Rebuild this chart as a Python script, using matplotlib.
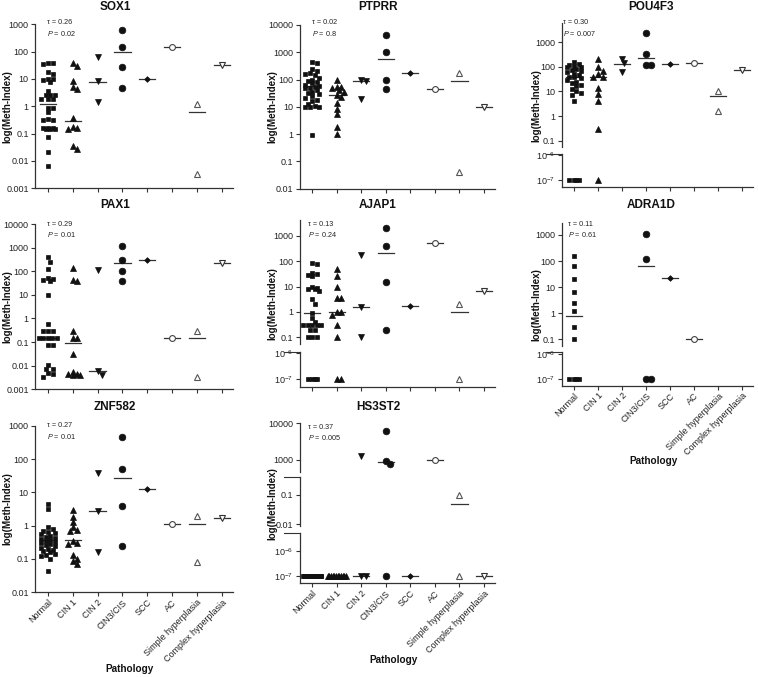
import numpy as np
import matplotlib
matplotlib.use("Agg")
from matplotlib import pyplot as plt

plt.rcParams["font.family"] = ["Liberation Sans", "DejaVu Sans"]
plt.rcParams["mathtext.fontset"] = "custom"
plt.rcParams["mathtext.rm"] = "Liberation Sans"
plt.rcParams["mathtext.it"] = "Liberation Sans:italic"

W, H = 758, 677

categories = ["Normal", "CIN 1", "CIN 2", "CIN3/CIS", "SCC", "AC",
              "Simple hyperplasia", "Complex hyperplasia"]

#Data (one list per pathology group), medians drawn as bars
sox1 = [[40, 38, 36, 18, 15, 10, 10, 9, 7.5, 3.7, 2.6, 2.6, 2.6, 1.9, 1.9, 1.9, 0.9, 0.9, 0.6,
         0.33, 0.32, 0.32, 0.16, 0.16, 0.16, 0.15, 0.15, 0.15, 0.075, 0.022, 0.0065],
        [40, 30, 8.5, 5, 4.2, 0.37, 0.18, 0.16, 0.15, 0.035, 0.028],
        [62, 8.5, 1.45], [620, 150, 28, 4.7], [9.8], [150], [1.2, 0.0033], [32]]
sox1_med = [1.2, 0.28, 8.0, 95, 9.8, 150, 0.6, 32]

ptprr = [[450, 400, 240, 200, 170, 160, 150, 118, 100, 90, 80, 75, 62, 58, 55, 50, 48, 40, 36,
          32, 30, 24, 22, 18, 16, 13, 11, 10, 9.5, 9.5, 0.9],
         [100, 55, 52, 50, 43, 36, 27, 23, 14, 8.5, 5.7, 1.8, 0.97],
         [95, 85, 20], [4300, 1000, 95, 44], [175], [44], [175, 0.042], [10]]
ptprr_med = [58, 28, 86, 570, 175, 44, 92, 10]

pou4f3 = [[150, 130, 120, 110, 100, 95, 85, 75, 65, 60, 50, 45, 40, 38, 35, 30, 25, 22, 18, 16,
           12, 10, 9, 7, 4, 1e-7, 1e-7, 1e-7, 1e-7],
          [200, 95, 70, 50, 40, 38, 14, 7.8, 4, 0.3, 1e-7],
          [205, 140, 60], [2300, 336, 120, 115], [130], [140], [10, 1.6], [75]]
pou4f3_med = [38, 40, 130, 225, 130, 140, 6.3, 75]

pax1 = [[390, 255, 120, 50, 48, 42, 38, 10, 0.6, 0.3, 0.3, 0.3, 0.15, 0.15, 0.15, 0.15, 0.15,
         0.075, 0.075, 0.011, 0.0075, 0.0072, 0.0048, 0.0045, 0.0034],
        [140, 43, 38, 0.3, 0.15, 0.15, 0.032, 0.0056, 0.0046, 0.0044, 0.0042, 0.004],
        [110, 0.0058, 0.0042], [1200, 310, 105, 40], [310], [0.15], [0.3, 0.0033], [230]]
pax1_med = [0.15, 0.095, 0.0058, 215, 310, 0.15, 0.15, 230]

ajap1 = [[87, 75, 35, 30, 28, 27, 10, 9, 8, 8, 7, 3.1, 2.1, 0.95, 0.6, 0.4, 0.3, 0.3, 0.3, 0.3,
          0.3, 0.2, 0.2, 0.1, 0.1, 0.1, 1e-7, 1e-7, 1e-7, 1e-7],
         [48, 27, 9.4, 3.6, 3.4, 1.0, 1.0, 0.78, 0.3, 0.1, 1e-7, 1e-7],
         [180, 1.6, 0.1], [2000, 410, 15, 0.2], [1.75], [520], [2, 1e-7], [6.4]]
ajap1_med = [0.93, 1.0, 1.6, 215, 1.75, 520, 1.0, 6.4]

adra1d = [[160, 65, 20, 6.5, 2.5, 1.2, 0.3, 0.1, 1e-7, 1e-7, 1e-7, 1e-7],
          [], [], [1050, 125, 1e-7, 1e-7], [22], [0.1], [], []]
adra1d_med = [0.75, None, None, 65, 22, 0.1, None, None]

znf582 = [[4.5, 3.1, 0.9, 0.8, 0.7, 0.65, 0.6, 0.55, 0.5, 0.45, 0.42, 0.4, 0.38, 0.35, 0.33, 0.3,
           0.28, 0.27, 0.25, 0.22, 0.2, 0.19, 0.17, 0.16, 0.14, 0.13, 0.12, 0.1, 0.045],
          [2.9, 1.8, 1.26, 0.9, 0.76, 0.67, 0.34, 0.3, 0.29, 0.13, 0.1, 0.085, 0.072],
          [38, 2.8, 0.16], [460, 50, 3.8, 0.25], [12.9], [1.15], [1.9, 0.08], [1.65]]
znf582_med = [0.37, 0.36, 2.7, 27, 12.9, 1.15, 1.1, 1.65]

hs3st2 = [[1e-7, 1e-7, 1e-7, 1e-7, 1e-7, 1e-7, 1e-7, 1e-7, 1e-7, 1e-7, 1e-7, 1e-7, 1e-7, 1e-7,
           1e-7, 1e-7, 1e-7, 1e-7, 1e-7, 1e-7, 1e-7, 1e-7, 1e-7, 1e-7, 1e-7, 1e-7, 1e-7, 1e-7],
          [1e-7, 1e-7, 1e-7, 1e-7, 1e-7, 1e-7, 1e-7, 1e-7, 1e-7, 1e-7, 1e-7, 1e-7],
          [1300, 1e-7, 1e-7], [6300, 940, 800, 1e-7], [1e-7], [1000], [0.1, 1e-7], [1e-7]]
hs3st2_med = [1e-7, 1e-7, 1e-7, 880, 1e-7, 1000, 0.05, 1e-7]

genes = ["SOX1", "PTPRR", "POU4F3", "PAX1", "AJAP1", "ADRA1D", "ZNF582", "HS3ST2"]
gene_data = [sox1, ptprr, pou4f3, pax1, ajap1, adra1d, znf582, hs3st2]
gene_med = [sox1_med, ptprr_med, pou4f3_med, pax1_med, ajap1_med, adra1d_med, znf582_med, hs3st2_med]
taus = [0.26, 0.02, 0.30, 0.29, 0.13, 0.11, 0.27, 0.37]
pvals = [0.02, 0.8, 0.007, 0.01, 0.24, 0.61, 0.01, 0.005]

#Layout in pixels: columns (left, right), axis segments (top, bottom, log lo, log hi)
cols = [(35, 233), (299.5, 495), (561.5, 753)]
segments = [
    [(24.3, 188.3, -3, 3)],
    [(25, 188.7, -2, 4)],
    [(23, 147, -1.26, 3.78), (154, 187.5, -7.3, -5.95)],
    [(224, 389.3, -3, 4)],
    [(220, 344, -1.26, 3.62), (352, 387, -7.3, -5.96)],
    [(223, 346, -1.26, 3.46), (352, 385.7, -7.28, -5.92)],
    [(425.7, 592.3, -2, 3)],
    [(423.3, 471.7, 2.68, 4), (477.3, 526, -2.06, -0.4), (532.7, 583.3, -7.29, -5.27)],
]
tau_pos = [(46.7, 22.7), (311.7, 22.7), (563, 22.7), (46.7, 224), (308, 224), (568, 224),
           (46.7, 425.7), (308, 427.3)]
title_y = [7.3, 205.5, 407]
title_x = [115, 378, 651]
ylab_x = [7.5, 272, 536]
show_xlabels = [False, False, False, False, False, True, True, True]
path_y = {5: 461, 6: 669, 7: 660}

styles = [
    dict(marker="s", ms=3.2, mfc="#111", mec="#111", mew=0.5),
    dict(marker="^", ms=3.8, mfc="#111", mec="#111", mew=0.5),
    dict(marker="v", ms=3.8, mfc="#111", mec="#111", mew=0.5),
    dict(marker="o", ms=4.8, mfc="#111", mec="#111", mew=0.5),
    dict(marker="D", ms=2.9, mfc="#111", mec="#111", mew=0.5),
    dict(marker="o", ms=4.2, mfc="white", mec="#444", mew=0.8),
    dict(marker="^", ms=4.4, mfc="white", mec="#555", mew=0.8),
    dict(marker="v", ms=4.4, mfc="white", mec="#333", mew=0.8),
]
xlim = (-0.52, 7.45)
tc = "#222"


def ypix(v, segs):
    lv = np.log10(v)
    for t, b, lo, hi in segs:
        if lo - 0.3 <= lv <= hi + 0.3:
            return t + (hi - lv) / (hi - lo) * (b - t)
    return 0.0


def swarm(ys, d=4.6, wmax=9.0):
    ys = np.asarray(ys, float)
    n = len(ys)
    offs = np.zeros(n)
    done = np.zeros(n, bool)
    for v in np.unique(ys):
        idx = np.where(ys == v)[0]
        if len(idx) >= 5:
            half = min((len(idx) - 1) * d, 2 * wmax) / 2
            offs[idx] = np.linspace(-half, half, len(idx))
            done[idx] = True
    placed = [(offs[i], ys[i]) for i in range(n) if done[i]]
    steps = [0.0]
    for k in range(1, 9):
        steps += [k * d / 2, -k * d / 2]
    for i in np.argsort(ys):
        if done[i]:
            continue
        best, bestd = None, -1
        for s in steps:
            if abs(s) > wmax:
                continue
            md = min([np.hypot(s - px, ys[i] - py) for px, py in placed] + [99])
            if md >= d:
                best = s
                break
            if md > bestd:
                bestd, bestfall = md, s
        if best is None:
            best = bestfall
        offs[i] = best
        placed.append((best, ys[i]))
    return offs


def fmt(e):
    if e >= 0:
        return str(int(10 ** e))
    if e >= -3:
        return "%.*f" % (-e, 10.0 ** e)
    return "10$^{%d}$" % e


fig = plt.figure(figsize=(W / 100, H / 100), dpi=100)

for g in range(len(genes)):
    c = g % 3
    r = g // 3
    left, right = cols[c]
    segs = segments[g]
    ppc = (right - left) / (xlim[1] - xlim[0])
    axes = []
    for k, (t, b, lo, hi) in enumerate(segs):
        ax = fig.add_axes([left / W, 1 - b / H, (right - left) / W, (b - t) / H])
        ax.set_yscale("log")
        ax.set_ylim(10 ** lo, 10 ** hi)
        ax.set_xlim(*xlim)
        ax.patch.set_alpha(0)
        for s in ["top", "right"]:
            ax.spines[s].set_visible(False)
        ax.spines["left"].set_color("#333")
        ax.spines["left"].set_linewidth(0.9)
        exps = [e for e in range(-8, 6) if lo - 1e-6 <= e <= hi + 1e-6]
        ax.set_yticks([10.0 ** e for e in exps])
        ax.set_yticklabels([fmt(e) for e in exps])
        ax.minorticks_off()
        ax.tick_params(axis="y", length=3, width=0.8, color="#333", labelsize=6.5,
                       labelcolor=tc, pad=1.5)
        last = k == len(segs) - 1
        if last:
            ax.spines["bottom"].set_color("#333")
            ax.spines["bottom"].set_linewidth(0.9)
            ax.set_xticks(range(len(categories)))
            ax.tick_params(axis="x", length=3, width=0.8, color="#333", labelsize=6.5,
                           labelcolor=tc, pad=1)
            if show_xlabels[g]:
                ax.set_xticklabels(categories, rotation=45, ha="right", va="top",
                                   rotation_mode="anchor")
            else:
                ax.set_xticklabels([])
        else:
            ax.spines["bottom"].set_visible(False)
            ax.set_xticks([])
        if k > 0:
            ax.plot([-0.08, 0.0], [1, 1], transform=ax.transAxes, color="#333",
                    lw=0.8, clip_on=False)
        axes.append(ax)

    for i in range(len(categories)):
        vals = gene_data[g][i]
        med = gene_med[g][i]
        offs = swarm([ypix(v, segs) for v in vals]) / ppc if vals else []
        for ax in axes:
            if med is not None:
                ax.plot([i - 0.33, i + 0.33], [med, med], color="#333", lw=0.9, zorder=1)
            if vals:
                ax.plot(i + np.asarray(offs), vals, ls="none", zorder=3, **styles[i])

    tx, ty = tau_pos[g]
    fig.text(tx / W, 1 - ty / H, "\u03c4 = %.2f" % taus[g], fontsize=5.2, color=tc, va="center")
    fig.text(tx / W, 1 - (ty + 10.5) / H, "$P$ = " + str(pvals[g]), fontsize=5.2, color=tc,
             va="center")
    fig.text(title_x[c] / W, 1 - title_y[r] / H, genes[g], fontsize=8.5, fontweight="bold",
             ha="center", va="center", color="#111")
    mid = (segs[0][0] + segs[-1][1]) / 2
    fig.text(ylab_x[c] / W, 1 - mid / H, "log(Meth-Index)", fontsize=7, fontweight="bold",
             rotation=90, ha="center", va="center", color="#111")
    if g in path_y:
        fig.text((left + right) / 2 / W - 4 / W, 1 - path_y[g] / H, "Pathology", fontsize=7.2,
                 fontweight="bold", ha="center", va="center", color="#111")

plt.savefig("out.png", dpi=100)
